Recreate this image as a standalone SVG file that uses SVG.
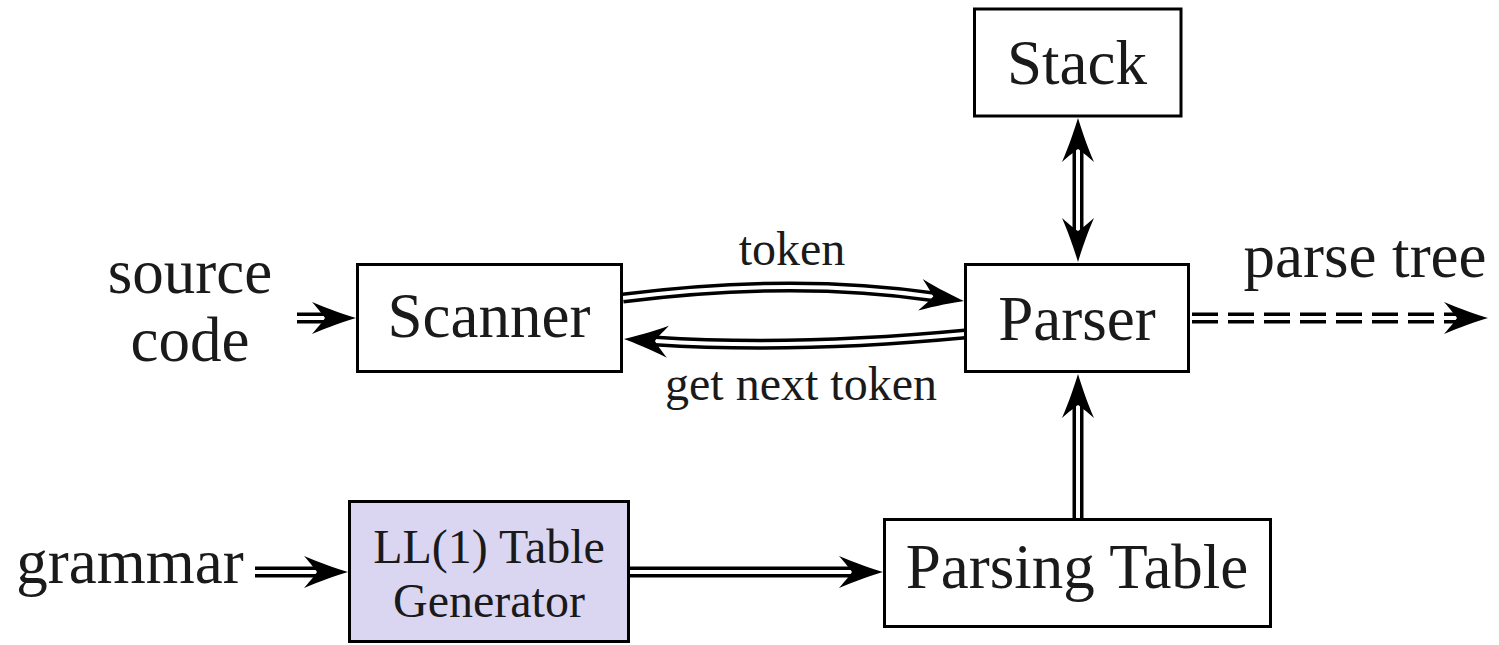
<svg xmlns="http://www.w3.org/2000/svg" width="1499" height="645" viewBox="0 0 1499 645">
  <style>
    .box { fill: #ffffff; stroke: #000000; stroke-width: 3; }
    .gen { fill: #dad6f2; stroke: #000000; stroke-width: 3; }
    .big { font-family: "Liberation Serif", "Times New Roman", serif; font-size: 63px; fill: #1a1a1a; }
    .small { font-family: "Liberation Serif", "Times New Roman", serif; font-size: 48px; fill: #1a1a1a; }
    .rail-outer { fill: none; stroke: #000000; stroke-width: 11; }
    .rail-inner { fill: none; stroke: #ffffff; stroke-width: 4; }
    .rail-dash { fill: none; stroke: #000000; stroke-width: 11; stroke-dasharray: 26 10; }
  </style>
  <defs>
    <!-- arrowhead pointing along +x, tip at the origin -->
    <path id="head" d="M0,0 C-10,-3 -28,-9 -44,-16 C-37,-8 -33,-3 -31,0 C-33,3 -37,8 -44,16 C-28,9 -10,3 0,0 Z" fill="#000000"/>
  </defs>

  <rect width="1499" height="645" fill="#ffffff"/>

  <!-- connectors: double-line arrows -->
  <g id="connectors">
    <!-- source code -> Scanner -->
    <path class="rail-outer" d="M297,318 H327"/>
    <path class="rail-inner" d="M297,318 H327"/>
    <use href="#head" transform="translate(356,318)"/>

    <!-- Scanner -> Parser (token) -->
    <path class="rail-outer" d="M623,298 Q793,276.5 933,296.7"/>
    <path class="rail-inner" d="M623,298 Q793,276.5 933,296.7"/>
    <use href="#head" transform="translate(964,301) rotate(8.2)"/>

    <!-- Parser -> Scanner (get next token) -->
    <path class="rail-outer" d="M965,334 Q795,350 655,341"/>
    <path class="rail-inner" d="M965,334 Q795,350 655,341"/>
    <use href="#head" transform="translate(624,339) rotate(183.7)"/>

    <!-- Stack <-> Parser -->
    <path class="rail-outer" d="M1078,148 V232"/>
    <path class="rail-inner" d="M1078,148 V232"/>
    <use href="#head" transform="translate(1078,118) rotate(-90)"/>
    <use href="#head" transform="translate(1078,262) rotate(90)"/>

    <!-- Parsing Table -> Parser -->
    <path class="rail-outer" d="M1078,518 V404"/>
    <path class="rail-inner" d="M1078,518 V404"/>
    <use href="#head" transform="translate(1078,374) rotate(-90)"/>

    <!-- Parser -> parse tree (dashed) -->
    <path class="rail-dash" d="M1192,318 H1458"/>
    <path class="rail-inner" d="M1192,318 H1458"/>
    <use href="#head" transform="translate(1488,318)"/>

    <!-- grammar -> LL(1) Table Generator -->
    <path class="rail-outer" d="M255,572 H318"/>
    <path class="rail-inner" d="M255,572 H318"/>
    <use href="#head" transform="translate(348,572)"/>

    <!-- LL(1) Table Generator -> Parsing Table -->
    <path class="rail-outer" d="M630,572 H853"/>
    <path class="rail-inner" d="M630,572 H853"/>
    <use href="#head" transform="translate(883,572)"/>

    <text class="small" x="792" y="265" text-anchor="middle">token</text>
    <text class="small" x="801" y="400" text-anchor="middle">get next token</text>
  </g>

  <!-- nodes -->
  <g id="stack">
    <rect class="box" x="974.5" y="9" width="206.5" height="107"/>
    <text class="big" x="1077" y="84" text-anchor="middle">Stack</text>
  </g>

  <g id="scanner">
    <rect class="box" x="357.5" y="264.5" width="264" height="107"/>
    <text class="big" x="489" y="337" text-anchor="middle">Scanner</text>
  </g>

  <g id="parser">
    <rect class="box" x="965.5" y="264.5" width="223" height="107"/>
    <text class="big" x="1077" y="340" text-anchor="middle">Parser</text>
  </g>

  <g id="generator">
    <rect class="gen" x="349.5" y="501.5" width="279" height="140"/>
    <text class="small" x="489" y="563" text-anchor="middle">LL(1) Table</text>
    <text class="small" x="489" y="617" text-anchor="middle">Generator</text>
  </g>

  <g id="parsing-table">
    <rect class="box" x="884.5" y="519.5" width="386" height="107"/>
    <text class="big" x="1077" y="588" text-anchor="middle">Parsing Table</text>
  </g>

  <g id="source">
    <text class="big" x="190" y="293" text-anchor="middle">source</text>
    <text class="big" x="190" y="361" text-anchor="middle">code</text>
  </g>

  <g id="parse-tree">
    <text class="big" x="1365" y="277" text-anchor="middle">parse tree</text>
  </g>

  <g id="grammar">
    <text class="big" x="130" y="583" text-anchor="middle">grammar</text>
  </g>
</svg>
